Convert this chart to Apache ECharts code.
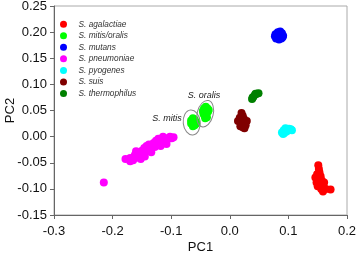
<!DOCTYPE html>
<html>
<head>
<meta charset="utf-8">
<script src="https://cdn.jsdelivr.net/npm/echarts@6/dist/echarts.min.js"></script>
<style>
  html, body { margin: 0; padding: 0; background: #fff; }
  #chart { width: 358px; height: 256px; }
</style>
</head>
<body>
<div id="chart"></div>
<script>
// species and colours
var speciesNames = ['S. agalactiae', 'S. mitis/oralis', 'S. mutans', 'S. pneumoniae', 'S. pyogenes', 'S. suis', 'S. thermophilus'];
var speciesColors = ['#ff0000', '#00ff00', '#0000ff', '#ff00ff', '#00ffff', '#800000', '#008000'];

// PC1 / PC2 scores
var agalactiae = [[0.151,-0.055],[0.152,-0.062],[0.153,-0.068],[0.149,-0.072],[0.146,-0.078],[0.150,-0.080],[0.155,-0.076],[0.152,-0.086],[0.157,-0.084],[0.148,-0.088],[0.154,-0.092],[0.158,-0.090],[0.160,-0.096],[0.156,-0.100],[0.159,-0.105],[0.164,-0.100],[0.172,-0.101],[0.150,-0.095],[0.161,-0.088]];
var mitisOralis = [[-0.046,0.049],[-0.044,0.054],[-0.041,0.057],[-0.038,0.054],[-0.037,0.048],[-0.040,0.043],[-0.043,0.040],[-0.039,0.037],[-0.045,0.044],[-0.036,0.051],[-0.042,0.035],
  [-0.066,0.031],[-0.063,0.035],[-0.060,0.033],[-0.058,0.028],[-0.062,0.026],[-0.066,0.025],[-0.060,0.022],[-0.063,0.020],[-0.057,0.025],[-0.065,0.029]];
var mutans = [[0.078,0.196],[0.082,0.200],[0.086,0.201],[0.089,0.198],[0.091,0.193],[0.088,0.188],[0.084,0.186],[0.079,0.188],[0.077,0.192],[0.085,0.194],[0.090,0.190],[0.081,0.195]];
var pneumoniae = [[-0.178,-0.043],[-0.170,-0.041],[-0.170,-0.047],[-0.165,-0.045],[-0.162,-0.035],[-0.158,-0.040],[-0.155,-0.030],[-0.153,-0.036],[-0.150,-0.027],[-0.148,-0.032],[-0.146,-0.022],[-0.144,-0.028],[-0.142,-0.018],[-0.140,-0.025],[-0.138,-0.015],[-0.136,-0.021],[-0.134,-0.030],[-0.132,-0.017],[-0.130,-0.012],[-0.128,-0.020],[-0.126,-0.008],[-0.124,-0.015],[-0.122,-0.004],[-0.120,-0.011],[-0.118,-0.018],[-0.116,-0.006],[-0.114,0.000],[-0.112,-0.010],[-0.110,-0.003],[-0.108,-0.014],[-0.105,-0.004],[-0.102,0.000],[-0.099,-0.003],[-0.096,-0.001],[-0.152,-0.043],[-0.145,-0.038],[-0.160,-0.028],[-0.215,-0.088]];
var pyogenes = [[0.089,0.008],[0.092,0.012],[0.095,0.016],[0.098,0.014],[0.101,0.015],[0.104,0.014],[0.106,0.012],[0.093,0.007],[0.097,0.010],[0.091,0.005]];
var suis = [[0.020,0.045],[0.022,0.040],[0.017,0.036],[0.014,0.030],[0.019,0.031],[0.024,0.034],[0.026,0.028],[0.021,0.024],[0.027,0.022],[0.022,0.018],[0.018,0.020],[0.025,0.016],[0.029,0.030]];
var thermophilus = [[0.038,0.072],[0.040,0.076],[0.043,0.080],[0.046,0.082],[0.049,0.083],[0.039,0.075],[0.044,0.082]];

var seriesData = [agalactiae, mitisOralis, mutans, pneumoniae, pyogenes, suis, thermophilus];

// annotation: subgroup labels and rings (data coords)
var subLabels = [
  { text: 'S. mitis', at: [-0.082, 0.035], align: 'right' },
  { text: 'S. oralis', at: [-0.044, 0.079], align: 'center' }
];
var rings = [
  { at: [-0.065, 0.027], rx: 8.5, ry: 12.5, rot: 0.1 },
  { at: [-0.042, 0.044], rx: 8, ry: 13.5, rot: -0.25 }
];

var chart = echarts.init(document.getElementById('chart'));

var axisFont = { fontFamily: 'Liberation Sans', fontSize: 13, color: '#111' };

var option = {
  animation: false,
  grid: { left: 54, right: 11, top: 6, bottom: 41, outerBoundsMode: 'none', containLabel: false, show: true, borderColor: '#aaa', borderWidth: 1 },
  legend: {
    orient: 'vertical',
    left: 55,
    top: 15.2,
    itemWidth: 20,
    itemHeight: 7,
    itemGap: 3.55,
    icon: 'circle',
    textStyle: { fontFamily: 'Liberation Sans', fontStyle: 'italic', fontSize: 8.3, color: '#333', lineHeight: 7 },
    data: speciesNames
  },
  xAxis: {
    type: 'value', min: -0.3, max: 0.2, interval: 0.1,
    name: 'PC1', nameLocation: 'middle', nameGap: 26, nameMoveOverlap: false,
    nameTextStyle: axisFont,
    axisLine: { onZero: false, lineStyle: { color: '#666' } },
    axisTick: { show: true, length: 4, lineStyle: { color: '#666' } },
    axisLabel: Object.assign({ margin: 10, formatter: function (v) { return v.toFixed(1); } }, axisFont),
    splitLine: { show: false }
  },
  yAxis: {
    type: 'value', min: -0.15, max: 0.25, interval: 0.05,
    name: 'PC2', nameLocation: 'middle', nameGap: 37, nameMoveOverlap: false,
    nameTextStyle: axisFont,
    axisLine: { show: true, onZero: false, lineStyle: { color: '#666' } },
    axisTick: { show: true, length: 4, lineStyle: { color: '#666' } },
    axisLabel: Object.assign({ margin: 7, formatter: function (v) { return v.toFixed(2); } }, axisFont),
    splitLine: { show: false }
  },
  series: speciesNames.map(function (name, i) {
    return {
      name: name,
      type: 'scatter',
      symbol: 'circle',
      symbolSize: 8,
      itemStyle: { color: speciesColors[i], opacity: 1 },
      data: seriesData[i]
    };
  })
};

chart.setOption(option);

var graphics = [];
rings.forEach(function (r) {
  var p = chart.convertToPixel({ gridIndex: 0 }, r.at);
  graphics.push({
    type: 'ellipse',
    x: p[0], y: p[1], rotation: r.rot,
    shape: { cx: 0, cy: 0, rx: r.rx, ry: r.ry },
    style: { fill: null, stroke: '#888', lineWidth: 1 },
    z: 10
  });
});
subLabels.forEach(function (l) {
  var p = chart.convertToPixel({ gridIndex: 0 }, l.at);
  graphics.push({
    type: 'text',
    x: p[0], y: p[1],
    style: { text: l.text, fontFamily: 'Liberation Sans', fontStyle: 'italic', fontSize: 9, fill: '#222', textAlign: l.align, textVerticalAlign: 'middle' },
    z: 10
  });
});
chart.setOption({ graphic: graphics });
</script>
</body>
</html>
